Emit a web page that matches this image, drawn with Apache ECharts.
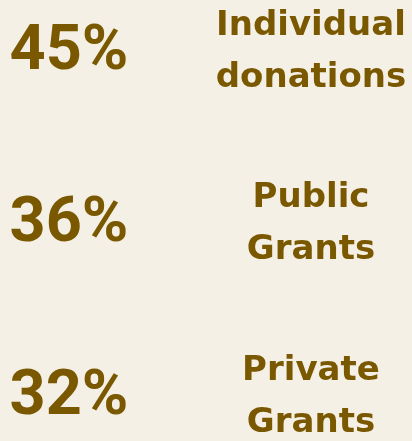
<!DOCTYPE html>
<html>
<head>
<meta charset="utf-8">
<script src="https://cdn.jsdelivr.net/npm/echarts@6/dist/echarts.min.js"></script>
<style>
  html, body { margin: 0; padding: 0; background: #f5f0e6; }
  #chart { width: 412px; height: 441px; }
</style>
</head>
<body>
<div id="chart"></div>
<script>
  var data = {
    symbol: ['Individual\ndonations', 'Public\nGrants', 'Private\nGrants'],
    percent: [45, 36, 32]
  }
  var textColor = '#7a5800'

  var chart = echarts.init(document.getElementById('chart'))
  chart.setOption({
    backgroundColor: '#f5f0e6',
    grid: { top: 48, bottom: 48, left: 69, right: 101 },
    xAxis: {
      type: 'category',
      show: false,
      boundaryGap: false,
      data: ['percent', 'name']
    },
    yAxis: {
      type: 'category',
      show: false,
      inverse: true,
      boundaryGap: false,
      data: data.symbol
    },
    series: [
      {
        type: 'scatter',
        symbolSize: 1,
        itemStyle: { color: 'rgba(0,0,0,0)', opacity: 1 },
        data: data.percent.map(function (v, i) { return ['percent', data.symbol[i], v] }),
        label: {
          show: true,
          position: 'inside',
          offset: [0, 5],
          formatter: function (p) { return p.value[2] + '%' },
          fontFamily: 'Roboto',
          fontWeight: 'bold',
          fontSize: 63,
          color: textColor
        }
      },
      {
        type: 'scatter',
        symbolSize: 1,
        itemStyle: { color: 'rgba(0,0,0,0)', opacity: 1 },
        data: data.symbol.map(function (s) { return ['name', s] }),
        label: {
          show: true,
          position: 'inside',
          offset: [0, 4],
          formatter: function (p) { return p.value[1] },
          fontFamily: 'DejaVu Sans',
          fontWeight: 'bold',
          fontSize: 34,
          lineHeight: 52,
          align: 'center',
          color: textColor
        }
      }
    ]
  })
</script>
</body>
</html>
